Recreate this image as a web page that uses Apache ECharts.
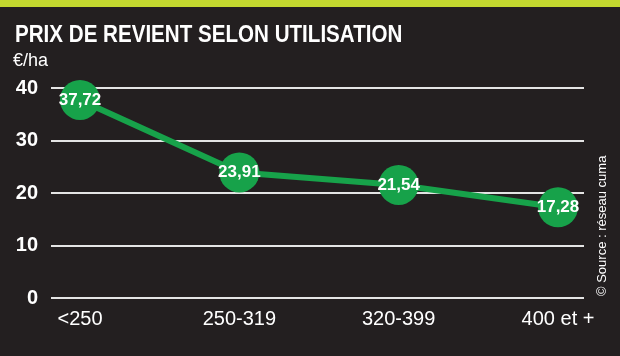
<!DOCTYPE html>
<html><head><meta charset="utf-8">
<script src="https://cdn.jsdelivr.net/npm/echarts@6/dist/echarts.min.js"></script>
<style>html,body{margin:0;padding:0;background:#231f20}#c{width:620px;height:356px}</style>
</head><body><div id="c"></div>
<script>
const categories = ['<250', '250-319', '320-399', '400 et +'];
const values = [37.72, 23.91, 21.54, 17.28];
const yTicks = [0, 10, 20, 30, 40];
const title = 'PRIX DE REVIENT SELON UTILISATION';
const unit = '€/ha';
const source = '© Source : réseau cuma';

const chart = echarts.init(document.getElementById('c'), null, {renderer: 'canvas'});
const white = '#ffffff';
const green = '#17a24a';
chart.setOption({
  backgroundColor: '#231f20',
  animation: false,
  graphic: [
    {type: 'rect', shape: {x: 0, y: 0, width: 620, height: 7}, style: {fill: '#c3d82f'}},
    {type: 'text', left: 15, top: 24, scaleX: 0.895, style: {text: title, fill: white, font: 'bold 23px "Liberation Sans", Arial, sans-serif'}},
    {type: 'text', left: 13, top: 52, style: {text: unit, fill: white, font: '18px "Liberation Sans", Arial, sans-serif'}},
    {type: 'text', x: 596, y: 296, rotation: Math.PI / 2, style: {text: source, fill: white, font: '13px "Liberation Sans", Arial, sans-serif', textAlign: 'left', textVerticalAlign: 'top'}}
  ],
  grid: [
    {left: 51, right: 36, top: 88, bottom: 58},
    {left: 80, right: 62, top: 88, bottom: 58}
  ],
  xAxis: [
    {gridIndex: 0, type: 'category', data: categories, show: false},
    {gridIndex: 1, type: 'category', data: categories, boundaryGap: false,
     axisLine: {show: false}, axisTick: {show: false},
     axisLabel: {color: white, fontSize: 20, margin: 11, fontFamily: 'Liberation Sans, Arial, sans-serif'}}
  ],
  yAxis: [
    {gridIndex: 0, type: 'value', min: 0, max: 40, interval: 10,
     axisLine: {show: false}, axisTick: {show: false},
     axisLabel: {color: white, fontSize: 20, fontWeight: 'bold', margin: 13, fontFamily: 'Liberation Sans, Arial, sans-serif',
       formatter: v => yTicks.includes(v) ? String(v) : ''},
     splitLine: {lineStyle: {color: '#e4e4e4', width: 2}}},
    {gridIndex: 1, type: 'value', min: 0, max: 40, interval: 10, show: false, splitLine: {show: false}}
  ],
  series: [{
    type: 'line', xAxisIndex: 1, yAxisIndex: 1, data: values,
    symbol: 'circle', symbolSize: 40,
    lineStyle: {color: green, width: 6},
    itemStyle: {color: green},
    label: {show: true, position: 'inside', color: white, fontSize: 17, fontWeight: 'bold',
      fontFamily: 'Liberation Sans Narrow, Liberation Sans, Arial, sans-serif',
      formatter: p => p.value.toFixed(2).replace('.', ',')}
  }]
});
</script></body></html>
